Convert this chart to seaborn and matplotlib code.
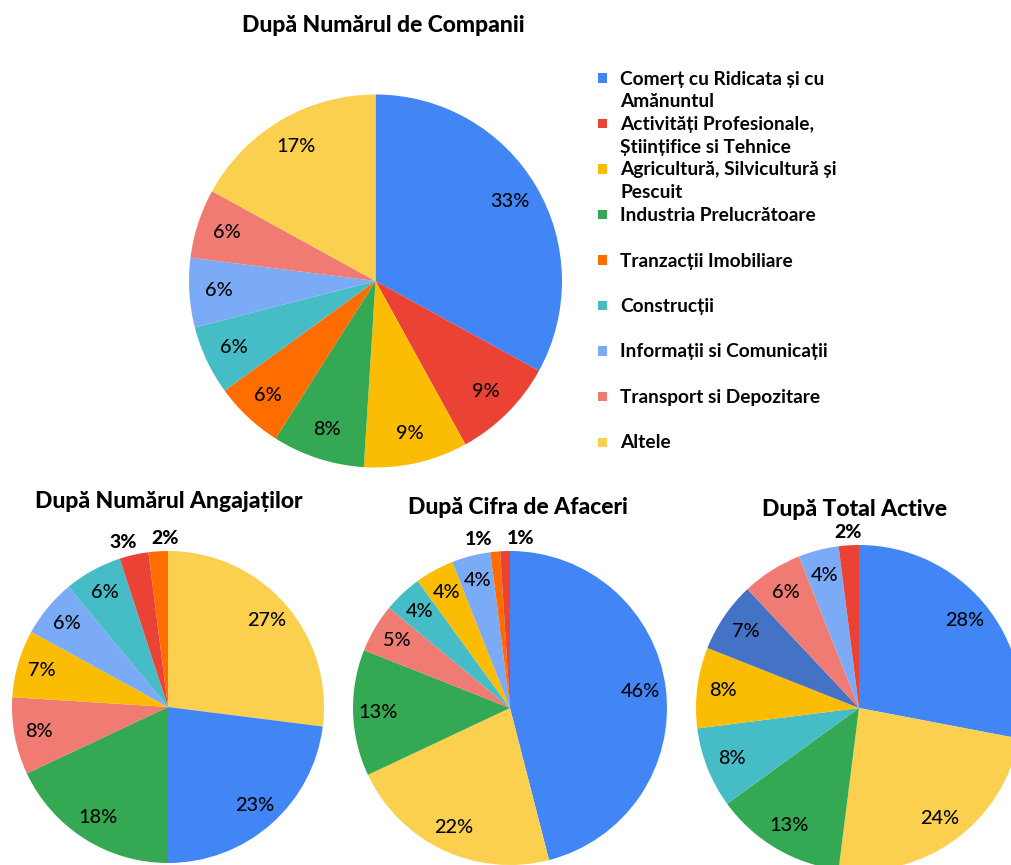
import numpy as np
import matplotlib
matplotlib.use("Agg")
import matplotlib.pyplot as plt
from matplotlib.patches import Rectangle
import seaborn as sns

sns.set_theme(style="white")
plt.rcParams['font.family'] = ['Lato', 'DejaVu Sans']

# ---------------- data ----------------
categories = [
    "Comerț cu Ridicata și cu\nAmănuntul",
    "Activități Profesionale,\nȘtiințifice si Tehnice",
    "Agricultură, Silvicultură și\nPescuit",
    "Industria Prelucrătoare",
    "Tranzacții Imobiliare",
    "Construcții",
    "Informații si Comunicații",
    "Transport si Depozitare",
    "Altele",
]
keys = ["comert", "activitati", "agri", "industria", "tranzactii",
        "constructii", "informatii", "transport", "altele"]

companii_order = ["comert", "activitati", "agri", "industria", "tranzactii",
                  "constructii", "informatii", "transport", "altele"]
companii_values = [33, 9, 9, 8, 6, 6, 6, 6, 17]

angajati_order = ["altele", "comert", "industria", "transport", "agri",
                  "informatii", "constructii", "activitati", "tranzactii"]
angajati_values = [27, 23, 18, 8, 7, 6, 6, 3, 2]

afaceri_order = ["comert", "altele", "industria", "transport", "constructii",
                 "agri", "informatii", "tranzactii", "activitati"]
afaceri_values = [46, 22, 13, 5, 4, 4, 4, 1, 1]

active_order = ["comert", "altele", "industria", "constructii", "agri",
                "tranzactii", "transport", "informatii", "activitati"]
active_values = [28, 24, 13, 8, 8, 7, 6, 4, 2]

titles = ["După Numărul de Companii", "După Numărul Angajaților",
          "După Cifra de Afaceri", "După Total Active"]

palette = {
    "comert": "#4285F4",
    "activitati": "#EA4335",
    "agri": "#FBBC04",
    "industria": "#34A853",
    "tranzactii": "#FF6D01",
    "constructii": "#46BDC6",
    "informatii": "#7BAAF7",
    "transport": "#F07B72",
    "altele": "#FCD04F",
}
# the "Total Active" chart shows Tranzacții in a dark blue
active_override = {"tranzactii": "#4472C4"}

# ---------------- figure ----------------
W, H = 1012, 865
fig = plt.figure(figsize=(W / 100, H / 100), dpi=100)


def pie_axes(cx, cy, r):
    """axes (pixel center/radius, y from top) -> figure fraction rect"""
    return fig.add_axes([(cx - r) / W, (H - cy - r) / H, 2 * r / W, 2 * r / H])


def draw_pie(ax, order, values, override=None, pctdist=0.84, out_r=1.08,
             small=4, min_gap=0.27):
    override = override or {}
    cols = [override.get(k, palette[k]) for k in order]
    wedges, _ = ax.pie(values, colors=cols, startangle=90, counterclock=False,
                       radius=1.0, wedgeprops=dict(linewidth=0))
    total = float(sum(values))
    outside = []
    for w, v in zip(wedges, values):
        ang = np.deg2rad((w.theta1 + w.theta2) / 2)
        txt = f"{v / total * 100:.0f}%"
        if v < small:
            outside.append([np.cos(ang) * out_r, np.sin(ang) * out_r, txt])
        else:
            ax.text(np.cos(ang) * pctdist, np.sin(ang) * pctdist, txt,
                    ha="center", va="center", fontsize=14.3,
                    fontweight="medium", color="#050505")
    # spread neighbouring outside labels apart
    outside.sort(key=lambda t: t[0])
    for i in range(len(outside) - 1):
        a, b = outside[i], outside[i + 1]
        if b[0] - a[0] < min_gap:
            m = (a[0] + b[0]) / 2
            a[0], b[0] = m - min_gap / 2, m + min_gap / 2
    for x, y, txt in outside:
        ax.text(x, y, txt, ha="center", va="center", fontsize=14,
                fontweight="black", color="#000000")
    ax.set_xlim(-1, 1)
    ax.set_ylim(-1, 1)
    ax.set_aspect("equal")
    ax.set_axis_off()


ax0 = pie_axes(375.5, 281, 186.5)
draw_pie(ax0, companii_order, companii_values)
ax1 = pie_axes(168, 707, 156)
draw_pie(ax1, angajati_order, angajati_values)
ax2 = pie_axes(510, 708, 157)
draw_pie(ax2, afaceri_order, afaceri_values)
ax3 = pie_axes(859, 708, 163)
draw_pie(ax3, active_order, active_values, override=active_override)

# titles
title_pos = [(383, 25), (169, 502), (518, 508), (855, 509)]
for t, (x, y) in zip(titles, title_pos):
    fig.text(x / W, 1 - y / H, t, ha="center", va="center", fontsize=16.5,
             fontweight="black", color="#000000")

# legend (top chart)
leg_y0, leg_step = 78, 45.5
for i, (k, lab) in enumerate(zip(keys, categories)):
    y = leg_y0 + i * leg_step
    fig.patches.append(Rectangle((598 / W, 1 - (y + 4.5) / H), 9 / W, 9 / H,
                                 transform=fig.transFigure,
                                 facecolor=palette[k], edgecolor="none"))
    fig.text(620 / W, 1 - (y - 7.5) / H, lab, ha="left", va="top",
             fontsize=13.8, fontweight="bold", color="#050505",
             linespacing=1.42)

fig.savefig("out.png", dpi=100, facecolor="white")
